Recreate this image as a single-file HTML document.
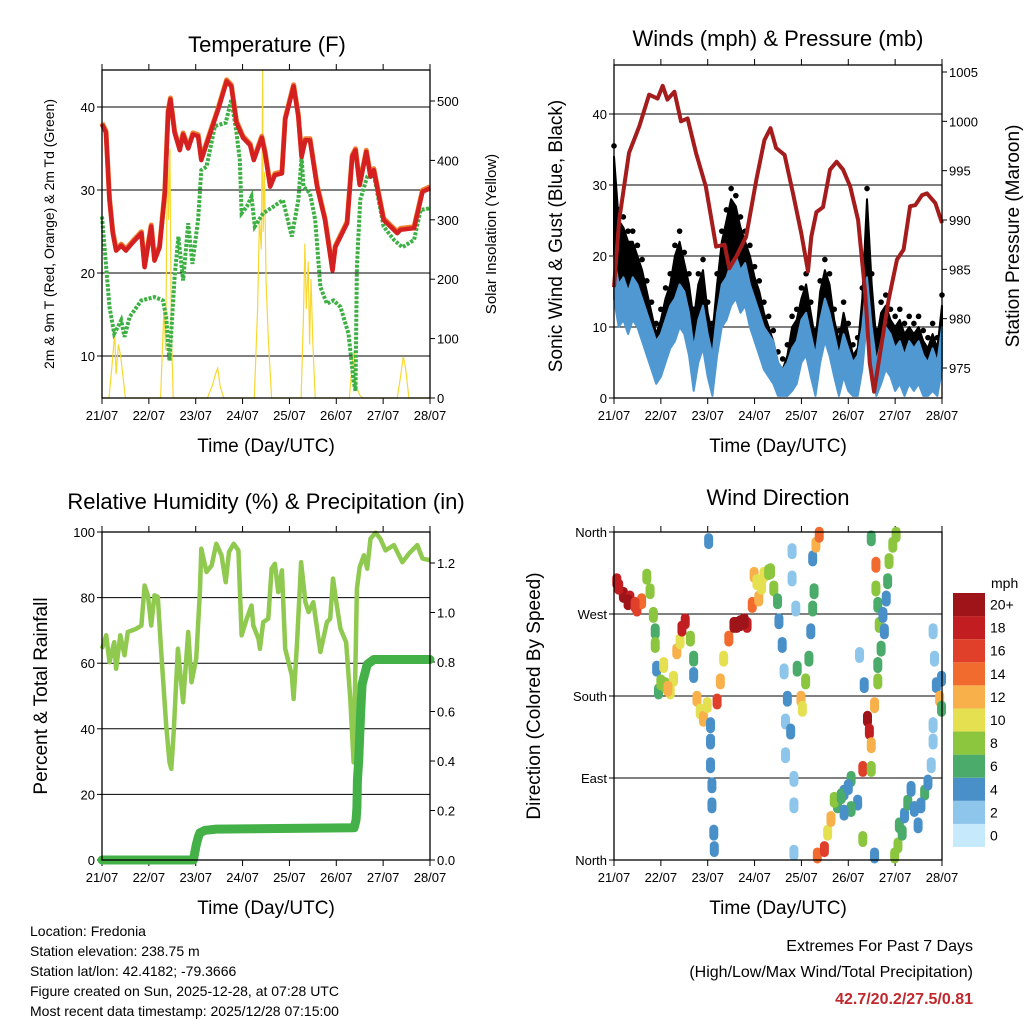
<!DOCTYPE html>
<html><head><meta charset="utf-8">
<style>
html,body{margin:0;padding:0;background:#fff;}
svg text{font-family:"Liberation Sans",Arial,sans-serif;fill:#000;}
</style></head>
<body>
<svg id="c" width="1024" height="1024" viewBox="0 0 1024 1024" xmlns="http://www.w3.org/2000/svg">
<rect width="1024" height="1024" fill="#fff"/>
<g id="g"></g>
<g font-size="14">
<text x="30" y="936">Location: Fredonia</text>
<text x="30" y="956">Station elevation: 238.75 m</text>
<text x="30" y="976">Station lat/lon: 42.4182; -79.3666</text>
<text x="30" y="996">Figure created on Sun, 2025-12-28, at 07:28 UTC</text>
<text x="30" y="1016">Most recent data timestamp: 2025/12/28 07:15:00</text>
</g>
<g font-size="16" text-anchor="end">
<text x="973" y="951">Extremes For Past 7 Days</text>
<text x="973" y="977">(High/Low/Max Wind/Total Precipitation)</text>
<text x="973" y="1004" font-weight="bold" style="fill:#c0282d">42.7/20.2/27.5/0.81</text>
</g>
</svg>
<script>
// ---------- data ----------
const dayLabels=["21/07","22/07","23/07","24/07","25/07","26/07","27/07","28/07"];
const tempT=[0,.086,.16,.23,.3,.41,.51,.66,.84,.91,1.05,1.12,1.23,1.34,1.41,1.46,1.55,1.66,1.73,1.84,1.94,2.05,2.12,2.3,2.48,2.66,2.76,2.87,3.01,3.16,3.24,3.41,3.48,3.59,3.69,3.84,3.91,4.09,4.19,4.26,4.34,4.44,4.59,4.76,4.92,4.98,5.23,5.34,5.41,5.5,5.64,5.73,5.8,6.01,6.3,6.37,6.66,6.84,7.0];
const tempV=[37.9,36.9,28.8,24.8,22.7,23.3,22.7,23.7,24.8,20.7,25.6,21.5,23.1,29.6,39.3,40.9,36.9,34.8,36.7,35.0,36.7,36.5,33.6,36.7,39.7,43.1,42.5,38.1,36.3,35.4,33.6,36.3,34.4,30.4,31.8,32.0,38.5,42.5,38.9,34.0,36.0,36.0,30.4,26.4,20.3,23.1,26.0,34.0,34.8,30.6,34.6,31.6,32.4,26.4,24.8,25.2,25.4,29.8,30.2];
const dewT=[0,.09,.16,.26,.34,.41,.48,.59,.84,1.12,1.3,1.37,1.44,1.55,1.63,1.73,1.84,1.93,2.05,2.12,2.23,2.41,2.64,2.76,2.87,2.94,2.98,3.09,3.19,3.26,3.44,3.66,3.86,4.05,4.19,4.26,4.3,4.44,4.55,4.66,4.8,4.94,5.09,5.26,5.37,5.41,5.44,5.51,5.66,5.79,6.01,6.23,6.41,6.66,6.8,7.0];
const dewV=[26.8,20.7,15.9,12.7,13.5,14.3,12.3,14.7,16.7,17.1,16.7,14.7,9.4,19.5,24.4,19.1,26.0,21.1,26.4,32.4,32.8,37.7,38.1,40.9,36.9,33.6,27.2,28.0,29.2,25.6,27.2,28.0,28.8,24.4,28.8,34.0,30.4,29.6,26.4,18.3,16.3,16.7,15.9,12.7,7.0,5.8,20.7,28.8,31.6,32.2,25.6,24.0,23.1,24.0,27.6,27.8];
const solarT=[0,.15,.22,.27,.3,.35,.4,.5,1.25,1.32,1.36,1.4,1.42,1.45,1.48,1.52,2.25,2.35,2.42,2.47,2.52,2.6,3.25,3.32,3.36,3.4,3.43,3.44,3.47,3.5,3.55,3.62,4.25,4.3,4.33,4.36,4.4,4.43,4.46,4.5,4.55,5.28,5.34,5.38,5.42,5.5,5.56,6.3,6.38,6.43,6.48,6.55,7.0];
const solarV=[0,0,60,110,40,90,70,0,0,150,80,460,300,420,120,0,0,20,40,50,20,0,0,150,300,250,552,280,380,200,100,0,0,140,260,150,230,90,200,90,0,0,60,80,20,5,0,0,40,70,50,0,0];
const presT=[0,.11,.32,.54,.75,.93,1.04,1.14,1.29,1.43,1.57,1.75,1.96,2.18,2.36,2.46,2.61,2.82,3.04,3.21,3.34,3.46,3.64,3.82,4.0,4.14,4.21,4.32,4.46,4.61,4.75,4.89,5.04,5.21,5.36,5.46,5.55,5.68,5.86,6.04,6.18,6.32,6.43,6.57,6.68,6.86,7.0];
const presV=[983.2,990.0,996.8,999.5,1002.7,1002.3,1003.6,1002.2,1003.0,1000.0,1000.3,996.8,993.4,987.3,987.5,985.1,986.3,988.3,994.1,998.1,999.3,997.3,996.6,992.7,988.6,984.8,988.3,990.8,991.3,995.1,995.9,995.1,993.4,990.0,982.6,975.5,972.6,976.5,981.9,986.0,987.0,991.4,991.5,992.5,992.7,991.7,989.7];
const windT=[0,.1,.2,.3,.4,.5,.6,.7,.8,.9,1,1.1,1.2,1.3,1.4,1.5,1.6,1.7,1.8,1.9,2,2.1,2.2,2.3,2.4,2.5,2.6,2.7,2.8,2.9,3,3.1,3.2,3.3,3.4,3.5,3.6,3.7,3.8,3.9,4,4.1,4.2,4.3,4.4,4.5,4.6,4.7,4.8,4.9,5,5.1,5.2,5.3,5.4,5.5,5.6,5.7,5.8,5.9,6,6.1,6.2,6.3,6.4,6.5,6.6,6.7,6.8,6.9,7];
const windV=[18,14,15,13,15,14,12,10,8,6,7,9,11,12,14,13,10,5,9,11,7,4,10,14,15,17,18,16,17,14,12,10,8,7,6,3,2,3,5,6,9,10,7,4,9,12,10,7,4,7,5,3,4,8,15,8,3,6,8,7,5,6,4,6,5,6,4,3,5,3,8];
const gustV=[34,25,24,22,22,20,18,15,12,9,11,14,16,20,22,19,16,11,16,18,12,9,16,22,25,28,27,24,22,20,17,15,12,10,8,5,4,6,10,11,14,16,12,8,15,18,16,11,8,12,9,6,7,14,28,16,8,12,13,11,10,11,9,10,9,10,8,7,9,7,13];
const rhT=[0,.09,.16,.26,.3,.39,.48,.55,.73,.84,.91,.98,1.05,1.12,1.19,1.26,1.37,1.44,1.48,1.53,1.62,1.73,1.84,1.91,2.01,2.09,2.12,2.23,2.34,2.44,2.55,2.64,2.71,2.81,2.91,2.98,3.09,3.19,3.23,3.34,3.37,3.44,3.55,3.62,3.69,3.76,3.84,3.91,4.05,4.09,4.16,4.25,4.34,4.41,4.51,4.66,4.8,4.87,4.93,5.01,5.09,5.21,5.3,5.37,5.44,5.5,5.59,5.66,5.73,5.84,5.94,6.05,6.23,6.41,6.55,6.73,6.84,7.0];
const rhV=[64.4,68.5,60.3,66.4,58.3,68.5,62.4,69.5,70.5,71.5,83.7,80.7,71.5,80.7,80.2,64.4,41.0,29.8,27.8,39.0,64.4,48.1,69.5,54.2,61.3,81.7,94.9,87.8,89.8,96.4,92.9,84.7,93.9,96.4,94.4,68.5,73.6,77.6,71.5,67.4,64.4,72.5,73.6,88.8,90.3,81.7,88.3,64.4,56.3,49.1,65.4,90.8,78.6,75.6,78.6,63.4,72.5,73.6,85.8,77.6,70.5,66.4,49.1,29.8,82.7,89.3,92.9,88.8,98.0,99.8,98.0,94.4,96.0,90.8,93.4,96.0,91.9,91.4];
const rainT=[0,1.95,2.01,2.05,2.09,2.2,2.44,5.38,5.42,5.44,5.45,5.48,5.52,5.55,5.66,5.8,7.0];
const rainV=[0,0,0.06,0.09,0.11,0.12,0.125,0.13,0.16,0.21,0.32,0.41,0.6,0.71,0.79,0.81,0.81];
const dirT=[.06,.2,.34,.49,.59,.7,.77,.84,.88,.88,.91,.95,1.06,1.09,1.2,1.27,1.34,1.41,1.45,1.52,1.63,1.7,1.7,1.77,1.84,1.91,1.99,2.02,2.06,2.06,2.06,2.09,2.09,2.13,2.14,2.2,2.27,2.34,2.45,2.56,2.7,2.84,2.95,2.99,3.09,3.2,3.34,3.41,3.49,3.52,3.59,3.63,3.7,3.66,3.77,3.66,3.8,3.8,3.88,3.84,3.84,3.84,3.91,3.99,4.02,4.09,4.16,4.2,4.24,4.27,4.24,4.31,4.38,4.34,4.49,4.56,4.63,4.77,4.91,5.06,5.2,5.06,4.91,5.24,5.34,5.41,5.45,5.49,5.56,5.31,5.49,5.31,5.56,5.49,5.59,5.59,5.63,5.66,5.7,5.63,5.63,5.74,5.77,5.81,5.84,5.87,5.95,6.02,5.99,6.06,6.09,6.2,6.27,6.34,6.41,6.49,6.63,6.7,6.77,6.81,6.84,6.88,6.95,6.99,6.81,6.81,6.99,.1,.3,.45,1.0,1.15,2.62,2.78,3.05,3.15,3.3,4.7,4.85,5.0,6.15,6.55];
const dirV=[306,291,287,276,284,311,295,269,251,236,210,185,214,192,185,199,229,240,254,262,243,221,203,177,163,155,170,350,148,130,104,82,60,30,12,174,196,221,243,258,260,258,280,313,287,313,317,298,284,262,236,207,177,152,141,115,339,309,276,89,60,8,210,177,166,196,221,251,276,295,331,346,357,5,12,30,45,60,74,89,63,56,52,225,192,155,141,126,170,100,100,23,5,353,324,298,280,258,232,214,196,269,251,287,306,328,346,357,5,16,38,49,63,78,56,38,74,85,104,251,221,192,177,199,148,130,166,300,283,280,195,188,258,262,305,300,316,66,70,80,30,60];
const dirS=[17,19,18,16,14,8,7,7,6,7,4,6,10,8,10,10,12,10,18,17,7,6,4,12,10,11,10,4,4,4,4,4,4,4,4,16,12,10,14,20,21,18,14,12,12,10,8,7,6,4,4,2,4,2,4,1,2,2,2,2,1,1,6,12,10,8,6,4,6,6,4,12,14,14,16,10,12,6,4,6,4,5,3,2,4,21,18,12,12,16,7,7,4,6,14,8,6,7,6,5,8,4,4,4,6,7,8,8,8,7,5,4,6,4,3,4,6,3,1,1,2,4,12,4,2,2,6,18,20,16,8,11,19,21,10,9,7,8,6,4,5,4];
const speedColors=["#c6e9fb","#8ec5ea","#4a90c8","#4aab6a","#8cc63e","#e5e050","#f8b04a","#f26b2e","#e0402a","#c21e22","#9e1418"];
const speedLabels=["0","2","4","6","8","10","12","14","16","18","20+"];

// ---------- drawing ----------
const NS="http://www.w3.org/2000/svg";
const G=document.getElementById('g');
function mk(tag,attrs,parent){const e=document.createElementNS(NS,tag);for(const k in attrs)e.setAttribute(k,attrs[k]);(parent||G).appendChild(e);return e;}
function lin(d0,d1,r0,r1){return v=>r0+(v-d0)*(r1-r0)/(d1-d0);}
function path(xs,ys,fx,fy){return xs.map((t,i)=>(i?'L':'M')+fx(t).toFixed(1)+' '+fy(ys[i]).toFixed(1)).join(' ');}
function band(xs,lo,hi,fx,fy,dlo,dhi){
  let d=xs.map((t,i)=>(i?'L':'M')+fx(t).toFixed(1)+' '+fy(hi[i]+dhi).toFixed(1)).join(' ');
  for(let i=xs.length-1;i>=0;i--)d+='L'+fx(xs[i]).toFixed(1)+' '+fy(Math.max(0.3,lo[i]+dlo)).toFixed(1);
  return d+'Z';
}
function txt(x,y,s,size,anchor,parent,rot){const e=mk('text',{x:x,y:y,'font-size':size,'text-anchor':anchor||'middle'},parent);if(rot)e.setAttribute('transform','rotate(-90 '+x+' '+y+')');e.textContent=s;return e;}

function panel(name){
  const g=mk('g',{});
  
  
  return g;
}
function frame(g,x0,x1,y0,y1){
  const fx=lin(0,7,x0,x1);
  dayLabels.forEach((l,i)=>{
    const x=fx(i);
    mk('line',{x1:x,x2:x,y1:y1,y2:y1+6,stroke:'#000','stroke-width':1},g);
    mk('line',{x1:x,x2:x,y1:y0,y2:y0-6,stroke:'#000','stroke-width':1},g);
    const t=txt(x,y1+22,l,13,'middle',g);
    
    
  });
  const tt=txt((x0+x1)/2,y1+54,'Time (Day/UTC)',19,'middle',g);
  
  
  return fx;
}
function border(g,x0,x1,y0,y1){
  const r=mk('rect',{x:x0,y:y0,width:x1-x0,height:y1-y0,fill:'none',stroke:'#000','stroke-width':1.3},g);
  
  
}
function grid(g,vals,fy,x0,x1){vals.forEach(v=>{const l=mk('line',{x1:x0,x2:x1,y1:fy(v),y2:fy(v),stroke:'#000','stroke-width':1},g);});}
function yticks(g,vals,labs,fy,x,side){
  vals.forEach((v,i)=>{const y=fy(v);
    mk('line',{x1:x,x2:x+(side<0?-5:5),y1:y,y2:y,stroke:'#000'},g);
    const t=txt(x+(side<0?-7:7),y+5,labs[i],13,side<0?'end':'start',g);
    
    
  });
}

// Panel 1 temperature
(function(){
  const x0=102,x1=430,y0=70,y1=398;
  const g=panel('temperature-panel');
  const fx=frame(g,x0,x1,y0,y1);
  const fy=lin(10,40,356,107), fs=lin(0,500,398,101);
  grid(g,[10,20,30,40],fy,x0,x1);
  yticks(g,[10,20,30,40],['10','20','30','40'],fy,x0,-1);
  yticks(g,[0,100,200,300,400,500],['0','100','200','300','400','500'],fs,x1,1);
  const s=mk('path',{d:path(solarT,solarV,fx,fs),fill:'none',stroke:'#f8d830','stroke-width':1.2},g);
  
  
  const d=mk('path',{d:path(dewT,dewV,fx,fy),fill:'none',stroke:'#3cb043','stroke-width':4,'stroke-dasharray':'3 1.5'},g);
  
  
  const o=mk('path',{d:path(tempT,tempV,fx,fy),fill:'none',stroke:'#f08030','stroke-width':5,transform:'translate(0,-1.5)','stroke-linejoin':'round'},g);
  
  
  const r=mk('path',{d:path(tempT,tempV,fx,fy),fill:'none',stroke:'#d42020','stroke-width':4.5,'stroke-linejoin':'round'},g);
  
  
  border(g,x0,x1,y0,y1);
  const t=txt(267,52,'Temperature (F)',22,'middle',g);
  const a=txt(54,234,'2m & 9m T (Red, Orange) & 2m Td (Green)',14,'middle',g,1);
  const b=txt(496,234,'Solar Insolation (Yellow)',15,'middle',g,1);
})();

// Panel 2 winds
(function(){
  const x0=614,x1=942,y0=65,y1=398;
  const g=panel('winds-panel');
  const fx=frame(g,x0,x1,y0,y1);
  const fy=lin(0,40,398,114), fp=lin(975,1005,368,72);
  grid(g,[10,20,30,40],fy,x0,x1);
  yticks(g,[0,10,20,30,40],['0','10','20','30','40'],fy,x0,-1);
  yticks(g,[975,980,985,990,995,1000,1005],['975','980','985','990','995','1000','1005'],fp,x1,1);
  const gb=mk('path',{d:band(windT,windV,gustV,fx,fy,0,0),fill:'#000',stroke:'#000','stroke-width':2,'stroke-linejoin':'round'},g);
  
  
  windT.forEach((t,i)=>{const c=mk('circle',{cx:fx(t),cy:fy(gustV[i]+1.5),r:2.8,fill:'#000'},g);
    
    });
  const w=mk('path',{d:band(windT,windV,windV,fx,fy,-4,2),fill:'#5098d2',stroke:'#5098d2','stroke-width':2,'stroke-linejoin':'round'},g);
  
  
  const p=mk('path',{d:path(presT,presV,fx,fp),fill:'none',stroke:'#a51c1c','stroke-width':4,'stroke-linejoin':'round'},g);
  
  
  border(g,x0,x1,y0,y1);
  const t=txt(778,46,'Winds (mph) & Pressure (mb)',22,'middle',g);
  const a=txt(562,236,'Sonic Wind & Gust (Blue, Black)',19,'middle',g,1);
  const b=txt(1019,236,'Station Pressure (Maroon)',19,'middle',g,1);
})();

// Panel 3 RH
(function(){
  const x0=102,x1=430,y0=532,y1=860;
  const g=panel('humidity-panel');
  const fx=frame(g,x0,x1,y0,y1);
  const fy=lin(0,100,860,532), fr=lin(0,1.2,860,563);
  grid(g,[20,40,60,80],fy,x0,x1);
  yticks(g,[0,20,40,60,80,100],['0','20','40','60','80','100'],fy,x0,-1);
  yticks(g,[0,.2,.4,.6,.8,1,1.2],['0.0','0.2','0.4','0.6','0.8','1.0','1.2'],fr,x1,1);
  const r=mk('path',{d:path(rhT,rhV,fx,fy),fill:'none',stroke:'#8fc94f','stroke-width':4.5,'stroke-linejoin':'round'},g);
  
  
  const p=mk('path',{d:path(rainT,rainV,fx,fr),fill:'none',stroke:'#44b048','stroke-width':9,'stroke-linejoin':'round','stroke-linecap':'round'},g);
  
  
  border(g,x0,x1,y0,y1);
  const t=txt(266,509,'Relative Humidity (%) & Precipitation (in)',22,'middle',g);
  const a=txt(47,696,'Percent & Total Rainfall',19,'middle',g,1);
})();

// Panel 4 wind direction
(function(){
  const x0=614,x1=942,y0=532,y1=860;
  const g=panel('wind-direction-panel');
  const fx=frame(g,x0,x1,y0,y1);
  const fy=lin(0,360,860,532);
  grid(g,[90,180,270],fy,x0,x1);
  yticks(g,[0,90,180,270,360],['North','East','South','West','North'],fy,x0,-1);
  dirT.forEach((t,i)=>{
    const idx=Math.max(0,Math.min(10,Math.round(dirS[i]/2)));
    const c=mk('rect',{x:fx(t)-4.5,y:fy(dirV[i])-8,width:9,height:16,rx:4.5,fill:speedColors[idx]},g);
    
    
  });
  border(g,x0,x1,y0,y1);
  const cb=mk('g',{},g);
  
  
  const bh=(847-593)/11;
  speedColors.forEach((col,i)=>{
    const y=847-(i+1)*bh;
    const r=mk('rect',{x:953,y:y,width:32,height:bh,fill:col},cb);
    
    
    const l=txt(990,y+bh/2+5,speedLabels[i],14,'start',cb);
    
    
  });
  const u=txt(991,588,'mph',14,'start',cb);
  const t=txt(778,505,'Wind Direction',22,'middle',g);
  const a=txt(540,696,'Direction (Colored By Speed)',19,'middle',g,1);
})();
</script>
</body></html>
